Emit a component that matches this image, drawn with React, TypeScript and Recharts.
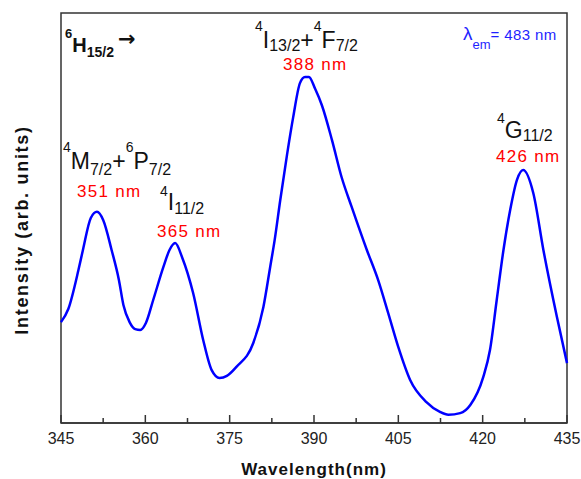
import React from 'react';
import { LineChart, Line, XAxis, YAxis, ReferenceArea } from 'recharts';

if (typeof document !== 'undefined') {
  document.body.style.margin = '0';
}

// excitation spectrum (arb. units, 0-100)
const wavelengths = [
  345.0, 346.3, 348.1, 348.9, 350.3, 351.4, 352.5, 354.0, 355.3, 356.1, 357.2, 358.2, 359.1,
  360.1, 361.4, 363.2, 364.3, 365.3, 366.6, 368.5, 370.3, 371.8, 373.2, 374.5, 376.2, 379.2,
  381.0, 382.2, 383.0, 384.0, 385.2, 386.3, 387.5, 388.4, 389.1, 390.2, 391.4, 393.2, 394.9,
  396.7, 399.4, 401.4, 403.2, 405.0, 407.1, 410.0, 412.4, 413.9, 416.0, 417.8, 420.1, 421.3,
  422.5, 423.7, 424.9, 426.1, 427.2, 429.0, 430.8, 433.2, 435.0,
];
const intensities = [
  24.6, 27.8, 37.3, 42.2, 50.0, 51.5, 49.5, 42.2, 34.9, 28.8, 24.6, 22.9, 22.7,
  24.4, 30.0, 38.0, 42.2, 43.9, 40.2, 31.7, 20.2, 12.9, 11.0, 11.5, 13.7, 19.5,
  28.3, 38.0, 44.6, 54.4, 65.4, 74.6, 82.9, 84.4, 84.4, 81.5, 77.5, 69.0, 60.0,
  52.7, 42.2, 34.9, 26.8, 18.5, 10.5, 5.1, 2.7, 2.0, 2.4, 4.4, 11.2, 17.8,
  30.0, 42.2, 52.0, 59.3, 61.7, 56.1, 42.2, 25.9, 14.6,
];

const xTicks = [345, 352.5, 360, 367.5, 375, 382.5, 390, 397.5, 405, 412.5, 420, 427.5, 435];
const majorTicks = [345, 360, 375, 390, 405, 420, 435];

const data = wavelengths.map((nm, i) => ({ nm, intensity: intensities[i] }));

const FONT = '"Liberation Sans", Arial, sans-serif';
const AXIS = '#333';

const WaveTick = (props: any) => {
  const { x, y, payload } = props;
  const major = majorTicks.includes(payload.value);
  return (
    <g>
      <line x1={x} y1={y} x2={x} y2={y - (major ? 8 : 5)} stroke={AXIS} strokeWidth={1.5} />
      {major && (
        <text x={x} y={y + 21} textAnchor="middle" fontSize={16} fill="#222" fontFamily={FONT}>
          {payload.value}
        </text>
      )}
    </g>
  );
};

type Part = { t: string; k?: 'sup' | 'sub' };

// term symbol with super/subscripts, drawn from a baseline
function Term({ x, y, parts, size, sup, sub, raise, drop, bold }: {
  x: number; y: number; parts: Part[]; size: number; sup: number; sub: number;
  raise: number; drop: number; bold?: boolean;
}) {
  let cur = 0;
  return (
    <text x={x} y={y} fontFamily={FONT} fontWeight={bold ? 'bold' : 'normal'} fill="#111">
      {parts.map((p, i) => {
        const target = p.k === 'sup' ? -raise : p.k === 'sub' ? drop : 0;
        const dy = target - cur;
        cur = target;
        const fs = p.k === 'sup' ? sup : p.k === 'sub' ? sub : size;
        return (
          <tspan key={i} dy={dy} fontSize={fs}>
            {p.t}
          </tspan>
        );
      })}
    </text>
  );
}

const redStyle = { fontSize: 17, fill: '#ff0000', fontFamily: FONT, letterSpacing: 1.3 };

export default function App() {
  return (
    <div style={{ position: 'relative', width: 581, height: 479, background: '#fff' }}>
      <LineChart width={581} height={479} data={data} margin={{ top: 13, right: 14, left: 61, bottom: 0 }}>
        <XAxis
          dataKey="nm"
          type="number"
          domain={[345, 435]}
          ticks={xTicks}
          interval={0}
          tickSize={0}
          tickMargin={0}
          tick={<WaveTick />}
          axisLine={{ stroke: AXIS, strokeWidth: 1.5 }}
          height={56}
        />
        <YAxis hide domain={[0, 100]} />
        <ReferenceArea x1={345} x2={435} y1={0} y2={100} fill="none" stroke={AXIS} strokeWidth={1.5} />
        <Line
          type="monotone"
          dataKey="intensity"
          stroke="#0000ff"
          strokeWidth={2.5}
          dot={false}
          isAnimationActive={false}
        />
      </LineChart>
      <svg width={581} height={479} style={{ position: 'absolute', left: 0, top: 0, pointerEvents: 'none' }}>
        <Term x={65} y={52} size={20} sup={13} sub={14} raise={14} drop={5} bold
          parts={[{ t: '6', k: 'sup' }, { t: 'H' }, { t: '15/2', k: 'sub' }]} />
        <text x={118} y={46} fontSize={21} fontWeight="bold" fontFamily='"DejaVu Sans", sans-serif' fill="#111">→</text>

        <Term x={255} y={48} size={23} sup={14} sub={16} raise={17} drop={3}
          parts={[{ t: '4', k: 'sup' }, { t: 'I' }, { t: '13/2', k: 'sub' }, { t: '+' }, { t: '4', k: 'sup' }, { t: 'F' }, { t: '7/2', k: 'sub' }]} />
        <text x={283} y={70} {...redStyle}>388 nm</text>

        <Term x={63} y={169} size={23} sup={14} sub={16} raise={17} drop={6}
          parts={[{ t: '4', k: 'sup' }, { t: 'M' }, { t: '7/2', k: 'sub' }, { t: '+' }, { t: '6', k: 'sup' }, { t: 'P' }, { t: '7/2', k: 'sub' }]} />
        <text x={77} y={197} {...redStyle}>351 nm</text>

        <Term x={160} y={210} size={23} sup={14} sub={16} raise={14} drop={4}
          parts={[{ t: '4', k: 'sup' }, { t: 'I' }, { t: '11/2', k: 'sub' }]} />
        <text x={157} y={237} {...redStyle}>365 nm</text>

        <Term x={497} y={138} size={23} sup={14} sub={16} raise={15} drop={3}
          parts={[{ t: '4', k: 'sup' }, { t: 'G' }, { t: '11/2', k: 'sub' }]} />
        <text x={496} y={162} {...redStyle}>426 nm</text>

        <text x={463} y={40} fontFamily={FONT} fill="#1f1fff">
          <tspan fontSize={19}>λ</tspan>
          <tspan fontSize={13} dy={9}>em</tspan>
          <tspan fontSize={15} dy={-9} letterSpacing={0.4}>= 483 nm</tspan>
        </text>

        <text x={314} y={475} textAnchor="middle" fontSize={17} fontWeight="bold" fontFamily={FONT}
          letterSpacing={1} fill="#111">
          Wavelength(nm)
        </text>
        <text x={28} y={230} transform="rotate(-90 28 230)" textAnchor="middle" fontSize={18}
          fontWeight="bold" fontFamily={FONT} letterSpacing={1.7} fill="#111">
          Intensity (arb. units)
        </text>
      </svg>
    </div>
  );
}
